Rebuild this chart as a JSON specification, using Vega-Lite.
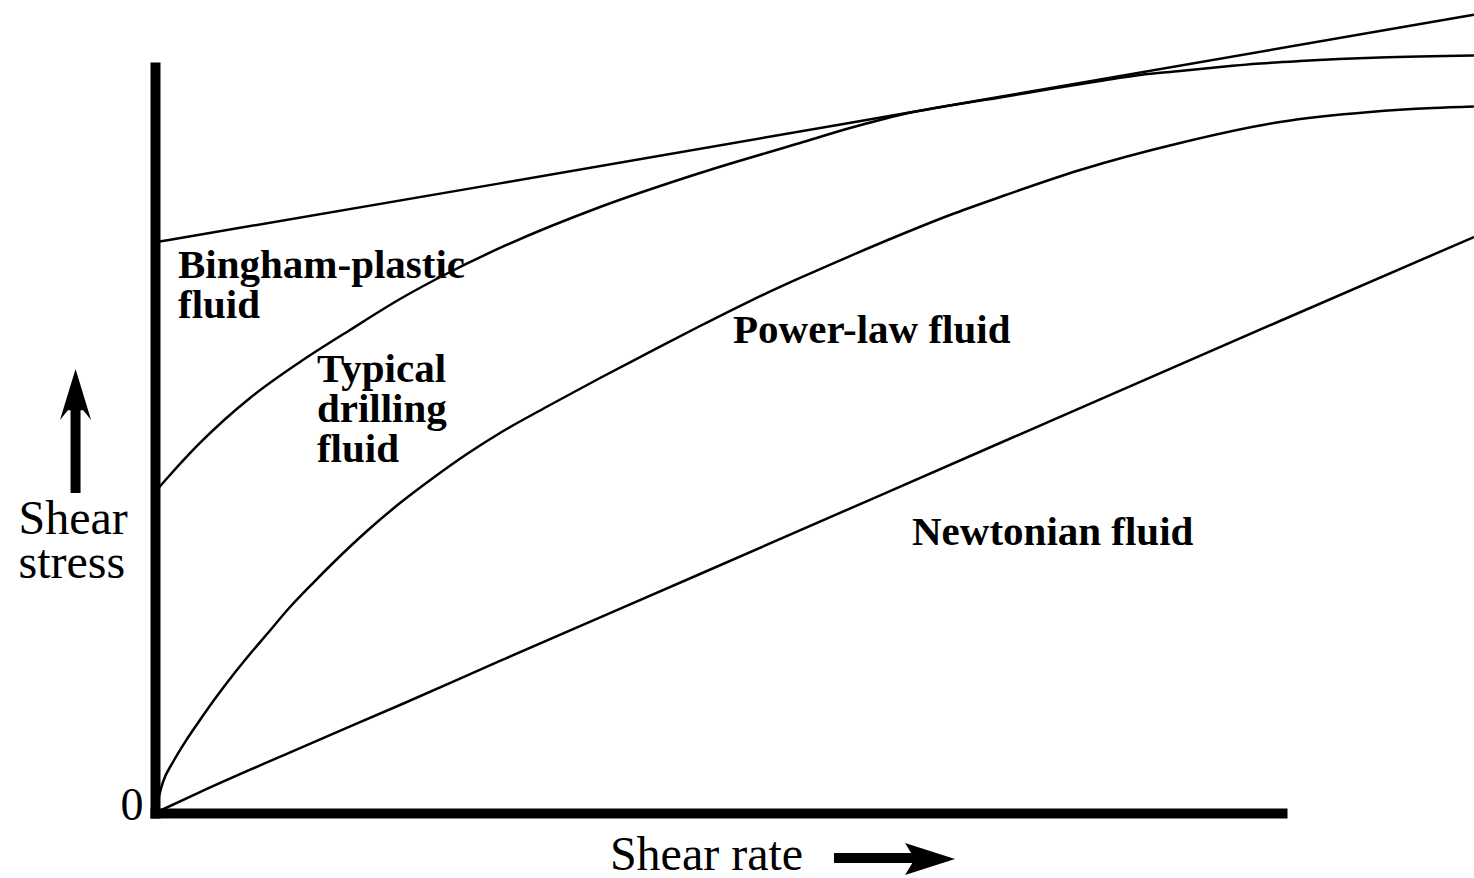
{
  "$schema": "https://vega.github.io/schema/vega-lite/v6.json",
  "width": 1127,
  "height": 746,
  "autosize": {"type": "none"},
  "padding": {"left": 155, "top": 67, "right": 192, "bottom": 65},
  "background": "white",
  "config": {"view": {"stroke": null}},
  "datasets": {
    "curves": [
      {"fluid": "Bingham-plastic fluid", "rate": 0, "stress": 76.5},
      {"fluid": "Bingham-plastic fluid", "rate": 30.61, "stress": 84.4},
      {"fluid": "Bingham-plastic fluid", "rate": 74.98, "stress": 96.0},
      {"fluid": "Bingham-plastic fluid", "rate": 117.03, "stress": 107.0},
      {"fluid": "Typical drilling fluid", "rate": 0, "stress": 43.03},
      {"fluid": "Typical drilling fluid", "rate": 1.33, "stress": 45.31},
      {"fluid": "Typical drilling fluid", "rate": 3.99, "stress": 49.6},
      {"fluid": "Typical drilling fluid", "rate": 8.43, "stress": 55.63},
      {"fluid": "Typical drilling fluid", "rate": 12.87, "stress": 60.46},
      {"fluid": "Typical drilling fluid", "rate": 17.3, "stress": 64.75},
      {"fluid": "Typical drilling fluid", "rate": 21.74, "stress": 68.9},
      {"fluid": "Typical drilling fluid", "rate": 26.18, "stress": 72.52},
      {"fluid": "Typical drilling fluid", "rate": 30.61, "stress": 75.74},
      {"fluid": "Typical drilling fluid", "rate": 39.49, "stress": 81.23},
      {"fluid": "Typical drilling fluid", "rate": 48.36, "stress": 85.79},
      {"fluid": "Typical drilling fluid", "rate": 57.23, "stress": 89.81},
      {"fluid": "Typical drilling fluid", "rate": 61.67, "stress": 91.82},
      {"fluid": "Typical drilling fluid", "rate": 66.1, "stress": 93.57},
      {"fluid": "Typical drilling fluid", "rate": 70.54, "stress": 94.84},
      {"fluid": "Typical drilling fluid", "rate": 74.98, "stress": 95.91},
      {"fluid": "Typical drilling fluid", "rate": 79.42, "stress": 97.05},
      {"fluid": "Typical drilling fluid", "rate": 83.85, "stress": 98.12},
      {"fluid": "Typical drilling fluid", "rate": 87.4, "stress": 98.93},
      {"fluid": "Typical drilling fluid", "rate": 90.95, "stress": 99.46},
      {"fluid": "Typical drilling fluid", "rate": 94.5, "stress": 100.0},
      {"fluid": "Typical drilling fluid", "rate": 98.05, "stress": 100.47},
      {"fluid": "Typical drilling fluid", "rate": 101.6, "stress": 100.8},
      {"fluid": "Typical drilling fluid", "rate": 108.7, "stress": 101.27},
      {"fluid": "Typical drilling fluid", "rate": 117.03, "stress": 101.54},
      {"fluid": "Power-law fluid", "rate": 0, "stress": 0},
      {"fluid": "Power-law fluid", "rate": 0.27, "stress": 1.74},
      {"fluid": "Power-law fluid", "rate": 0.71, "stress": 4.16},
      {"fluid": "Power-law fluid", "rate": 1.6, "stress": 6.84},
      {"fluid": "Power-law fluid", "rate": 2.84, "stress": 9.92},
      {"fluid": "Power-law fluid", "rate": 3.99, "stress": 12.47},
      {"fluid": "Power-law fluid", "rate": 5.5, "stress": 15.68},
      {"fluid": "Power-law fluid", "rate": 6.92, "stress": 18.5},
      {"fluid": "Power-law fluid", "rate": 8.43, "stress": 21.31},
      {"fluid": "Power-law fluid", "rate": 9.94, "stress": 23.99},
      {"fluid": "Power-law fluid", "rate": 11.98, "stress": 27.61},
      {"fluid": "Power-law fluid", "rate": 14.02, "stress": 30.83},
      {"fluid": "Power-law fluid", "rate": 15.79, "stress": 33.51},
      {"fluid": "Power-law fluid", "rate": 18.81, "stress": 37.8},
      {"fluid": "Power-law fluid", "rate": 21.74, "stress": 41.55},
      {"fluid": "Power-law fluid", "rate": 24.67, "stress": 44.91},
      {"fluid": "Power-law fluid", "rate": 27.68, "stress": 48.12},
      {"fluid": "Power-law fluid", "rate": 30.61, "stress": 50.94},
      {"fluid": "Power-law fluid", "rate": 35.05, "stress": 54.69},
      {"fluid": "Power-law fluid", "rate": 39.49, "stress": 58.31},
      {"fluid": "Power-law fluid", "rate": 43.92, "stress": 61.8},
      {"fluid": "Power-law fluid", "rate": 48.36, "stress": 65.28},
      {"fluid": "Power-law fluid", "rate": 52.8, "stress": 68.63},
      {"fluid": "Power-law fluid", "rate": 57.23, "stress": 71.72},
      {"fluid": "Power-law fluid", "rate": 61.67, "stress": 74.66},
      {"fluid": "Power-law fluid", "rate": 66.1, "stress": 77.48},
      {"fluid": "Power-law fluid", "rate": 70.54, "stress": 80.16},
      {"fluid": "Power-law fluid", "rate": 74.98, "stress": 82.57},
      {"fluid": "Power-law fluid", "rate": 82.08, "stress": 86.19},
      {"fluid": "Power-law fluid", "rate": 90.95, "stress": 89.81},
      {"fluid": "Power-law fluid", "rate": 99.82, "stress": 92.63},
      {"fluid": "Power-law fluid", "rate": 107.81, "stress": 93.97},
      {"fluid": "Power-law fluid", "rate": 113.4, "stress": 94.5},
      {"fluid": "Power-law fluid", "rate": 117.03, "stress": 94.7},
      {"fluid": "Newtonian fluid", "rate": 0, "stress": 0},
      {"fluid": "Newtonian fluid", "rate": 3.99, "stress": 2.81},
      {"fluid": "Newtonian fluid", "rate": 12.87, "stress": 8.71},
      {"fluid": "Newtonian fluid", "rate": 21.74, "stress": 14.48},
      {"fluid": "Newtonian fluid", "rate": 30.61, "stress": 20.38},
      {"fluid": "Newtonian fluid", "rate": 48.36, "stress": 32.04},
      {"fluid": "Newtonian fluid", "rate": 74.98, "stress": 49.6},
      {"fluid": "Newtonian fluid", "rate": 99.82, "stress": 65.95},
      {"fluid": "Newtonian fluid", "rate": 117.03, "stress": 77.21}
    ],
    "labels": [
      {"label": "Bingham-plastic\nfluid", "rate": 2.04, "stress": 71.7},
      {"label": "Typical\ndrilling\nfluid", "rate": 14.37, "stress": 57.77},
      {"label": "Power-law fluid", "rate": 51.29, "stress": 63.0},
      {"label": "Newtonian fluid", "rate": 67.17, "stress": 35.92}
    ],
    "shafts": [
      {"dir": "up", "rate": -7.05, "rate2": -7.05, "stress": 42.9, "stress2": 54.5},
      {"dir": "right", "rate": 60.25, "rate2": 67.5, "stress": -6.03, "stress2": -6.03}
    ],
    "heads": [
      {"dir": "up", "rate": -7.05, "stress": 56.1},
      {"dir": "right", "rate": 68.77, "stress": -6.17}
    ]
  },
  "layer": [
    {
      "data": {"name": "curves"},
      "mark": {"type": "line", "stroke": "black", "strokeWidth": 2.5, "interpolate": "monotone", "clip": false},
      "encoding": {
        "x": {
          "field": "rate", "type": "quantitative",
          "scale": {"domain": [0, 100], "nice": false, "zero": false},
          "axis": {
            "domain": true, "domainWidth": 10, "domainColor": "black", "domainCap": "square",
            "ticks": false, "labels": false, "grid": false,
            "title": "Shear rate",
            "titleFont": "Liberation Serif", "titleFontSize": 48, "titleFontWeight": "normal", "titleColor": "black",
            "titleX": 551, "titleY": 56, "titleAlign": "center", "titleBaseline": "alphabetic"
          }
        },
        "y": {
          "field": "stress", "type": "quantitative",
          "scale": {"domain": [0, 100], "nice": false, "zero": false},
          "axis": {
            "values": [0],
            "domain": true, "domainWidth": 10, "domainColor": "black", "domainCap": "square",
            "ticks": false, "grid": false,
            "labelFlush": false, "labelFont": "Liberation Serif", "labelFontSize": 46, "labelColor": "black",
            "labelPadding": 12, "labelBaseline": "alphabetic", "labelOffset": 6,
            "title": ["Shear", "stress"],
            "titleAngle": 0, "titleAlign": "left", "titleBaseline": "alphabetic",
            "titleX": -137, "titleY": 466,
            "titleFont": "Liberation Serif", "titleFontSize": 48, "titleFontWeight": "normal", "titleColor": "black",
            "titleLineHeight": 44
          }
        },
        "detail": {"field": "fluid", "type": "nominal"}
      }
    },
    {
      "data": {"name": "labels"},
      "mark": {"type": "text", "align": "left", "baseline": "alphabetic", "font": "Liberation Serif", "fontWeight": "bold", "fontSize": 41, "lineHeight": 40, "lineBreak": "\n", "color": "black"},
      "encoding": {
        "x": {"field": "rate", "type": "quantitative"},
        "y": {"field": "stress", "type": "quantitative"},
        "text": {"field": "label", "type": "nominal"}
      }
    },
    {
      "data": {"name": "shafts"},
      "mark": {"type": "rule", "stroke": "black", "strokeWidth": 10, "strokeCap": "butt"},
      "encoding": {
        "x": {"field": "rate", "type": "quantitative"},
        "x2": {"field": "rate2"},
        "y": {"field": "stress", "type": "quantitative"},
        "y2": {"field": "stress2"}
      }
    },
    {
      "data": {"name": "heads"},
      "mark": {"type": "point", "filled": true, "color": "black", "opacity": 1, "size": 2601},
      "encoding": {
        "x": {"field": "rate", "type": "quantitative"},
        "y": {"field": "stress", "type": "quantitative"},
        "shape": {
          "field": "dir", "type": "nominal", "legend": null,
          "scale": {"domain": ["up", "right"], "range": ["M0,-1L0.61,1L0.3,0.62L-0.3,0.62L-0.61,1Z", "M0.98,0L-0.98,-0.63L-0.6,0L-0.98,0.63Z"]}
        }
      }
    }
  ]
}
